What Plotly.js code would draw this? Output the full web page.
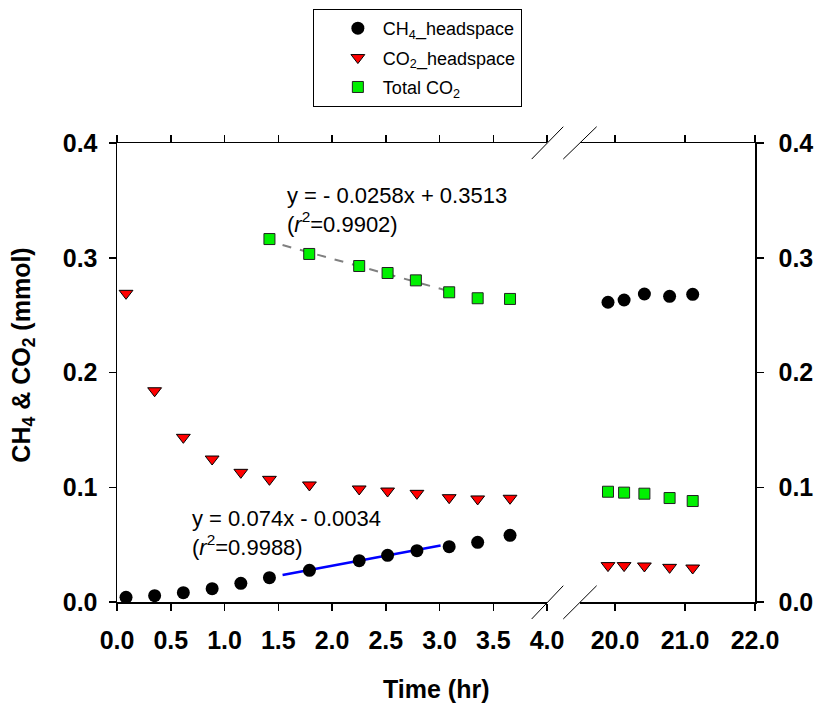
<!DOCTYPE html>
<html>
<head>
<meta charset="utf-8">
<script src="https://cdn.plot.ly/plotly-3.0.1.min.js"></script>
<style>
  body { margin: 0; background: #fff; }
  #chart { width: 817px; height: 709px; }
</style>
</head>
<body>
<div id="chart"></div>
<script>
// early part of the run (0 - 4 hr)
var timeEarly = [0.084, 0.35, 0.617, 0.885, 1.152, 1.418, 1.79, 2.253, 2.517, 2.79, 3.09, 3.355, 3.656];
var ch4Early = [0.0041, 0.0055, 0.0081, 0.0116, 0.0163, 0.0212, 0.0276, 0.036, 0.0407, 0.0447, 0.0482, 0.052, 0.0581];
var co2Early = [0.269, 0.1841, 0.1435, 0.1246, 0.113, 0.1069, 0.102, 0.0985, 0.0967, 0.0947, 0.0909, 0.0898, 0.0904];
var totTimeEarly = [1.418, 1.788, 2.253, 2.517, 2.78, 3.09, 3.355, 3.656];
var totalEarly = [0.3163, 0.3033, 0.2928, 0.2867, 0.2803, 0.2699, 0.2647, 0.2641];

// late part (after the axis break)
var timeLate = [19.9, 20.13, 20.42, 20.78, 21.11];
var ch4Late = [0.2612, 0.2632, 0.2684, 0.2664, 0.2681];
var co2Late = [0.0317, 0.0317, 0.0314, 0.0302, 0.0296];
var totalLate = [0.0961, 0.0953, 0.0944, 0.0906, 0.088];

// fitted lines, end points
var ch4FitX = [1.54, 3.01];
var ch4FitY = [0.0235, 0.0492];
var co2FitX = [1.54, 3.05];
var co2FitY = [0.3111, 0.2719];

var FONT = 'Arial, "Liberation Sans", sans-serif';

var circ = {symbol: 'circle', size: 13, color: '#000000'};
var tri = {symbol: 'triangle-down', size: 12, color: '#ff0000', line: {color: '#000000', width: 1}};
var sq = {symbol: 'square', size: 11, color: '#00f000', line: {color: '#222222', width: 1}};

var data = [
  {x: ch4FitX, y: ch4FitY, mode: 'lines', line: {color: '#0000ff', width: 2.5}, showlegend: false, xaxis: 'x', yaxis: 'y'},
  {x: co2FitX, y: co2FitY, mode: 'lines', line: {color: '#808080', width: 2, dash: 'dash'}, showlegend: false, xaxis: 'x', yaxis: 'y'},
  {x: timeEarly, y: ch4Early, mode: 'markers', marker: circ, name: 'CH<sub>4</sub>_headspace', legendgroup: 'a', xaxis: 'x', yaxis: 'y'},
  {x: timeEarly, y: co2Early, mode: 'markers', marker: tri, name: 'CO<sub>2</sub>_headspace', legendgroup: 'b', xaxis: 'x', yaxis: 'y'},
  {x: totTimeEarly, y: totalEarly, mode: 'markers', marker: sq, name: 'Total CO<sub>2</sub>', legendgroup: 'c', xaxis: 'x', yaxis: 'y'},
  {x: timeLate, y: ch4Late, mode: 'markers', marker: circ, showlegend: false, xaxis: 'x2', yaxis: 'y2'},
  {x: timeLate, y: co2Late, mode: 'markers', marker: tri, showlegend: false, xaxis: 'x2', yaxis: 'y2'},
  {x: timeLate, y: totalLate, mode: 'markers', marker: sq, showlegend: false, xaxis: 'x2', yaxis: 'y2'}
];

var tickFont = {family: FONT, size: 25, color: '#000', weight: 'bold'};
var axBase = {
  showgrid: false, zeroline: false, showline: true, linecolor: '#000', linewidth: 1.5,
  ticks: 'outside', ticklen: 7, tickwidth: 1.5, tickcolor: '#000',
  tickfont: tickFont, tickformat: '.1f'
};

function slash(x0, y0, x1, y1) {
  return {type: 'line', xref: 'paper', yref: 'paper', x0: x0, y0: y0, x1: x1, y1: y1,
          line: {color: '#000', width: 1}};
}

var layout = {
  width: 817, height: 709,
  margin: {l: 117, r: 62, t: 143, b: 107, autoexpand: false},
  paper_bgcolor: '#fff', plot_bgcolor: '#fff',
  font: {family: FONT, color: '#000'},
  showlegend: true,
  legend: {
    x: 0.307, y: 1.292, xanchor: 'left', yanchor: 'top',
    bordercolor: '#000', borderwidth: 1, bgcolor: '#fff',
    font: {family: FONT, size: 18, color: '#000'},
    tracegroupgap: 3, indentation: 19, itemwidth: 40, entrywidth: 222
  },
  xaxis: Object.assign({}, axBase, {domain: [0, 0.674], range: [0, 4], dtick: 0.5, tick0: 0, mirror: 'ticks', anchor: 'y', ticklabelstandoff: 8}),
  xaxis2: Object.assign({}, axBase, {domain: [0.7257, 1], range: [19.5, 22], dtick: 1, tick0: 0, mirror: 'ticks', anchor: 'y2', ticklabelstandoff: 8}),
  yaxis: Object.assign({}, axBase, {range: [0, 0.4], dtick: 0.1, anchor: 'x', ticklabelstandoff: 6}),
  yaxis2: Object.assign({}, axBase, {range: [0, 0.4], dtick: 0.1, anchor: 'x2', side: 'right', ticklabelstandoff: 10}),
  annotations: [
    {xref: 'paper', yref: 'paper', x: 0.5, y: -0.19, xanchor: 'center', yanchor: 'middle', showarrow: false,
     text: 'Time (hr)', font: {family: FONT, size: 25, weight: 'bold', color: '#000'}},
    {xref: 'paper', yref: 'paper', x: -0.148, y: 0.538, xanchor: 'center', yanchor: 'middle', showarrow: false, textangle: -90,
     text: 'CH<sub>4</sub> & CO<sub>2</sub> (mmol)', font: {family: FONT, size: 25, weight: 'bold', color: '#000'}},
    {xref: 'x', yref: 'y', x: 1.564, y: 0.3416, xanchor: 'left', yanchor: 'middle', align: 'left', showarrow: false,
     text: 'y = - 0.0258x + 0.3513<br>(<i>r</i><sup>2</sup>=0.9902)', font: {family: FONT, size: 22, color: '#000'}},
    {xref: 'x', yref: 'y', x: 0.68, y: 0.060, xanchor: 'left', yanchor: 'middle', align: 'left', showarrow: false,
     text: 'y = 0.074x - 0.0034<br>(<i>r</i><sup>2</sup>=0.9988)', font: {family: FONT, size: 22, color: '#000'}}
  ],
  shapes: [
    slash(0.650, -0.037, 0.6995, 0.0355),
    slash(0.6995, -0.037, 0.7518, 0.0355),
    slash(0.650, 0.965, 0.6995, 1.0355),
    slash(0.6995, 0.965, 0.7518, 1.0355)
  ]
};

Plotly.newPlot('chart', data, layout, {displayModeBar: false, staticPlot: true});
</script>
</body>
</html>
